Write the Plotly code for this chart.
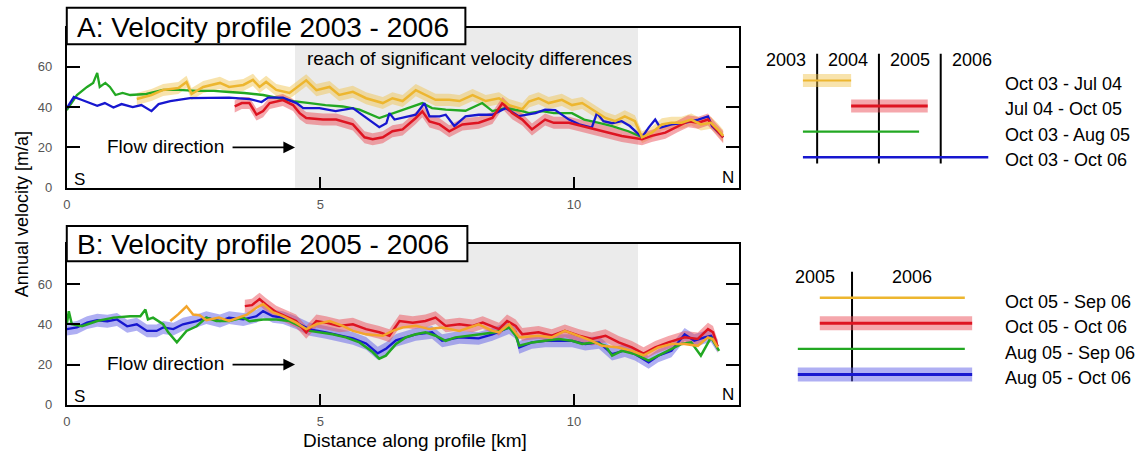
import plotly.graph_objects as go

# ---------------- Panel A data (distance km, velocity m/a) ----------------
xa_blue = [0.0, 0.14, 0.3, 0.45, 0.6, 0.75, 0.92, 1.08, 1.3, 1.47, 1.67, 1.81, 2.04, 2.43, 2.82, 3.2, 3.61, 3.84,
           3.97, 4.26, 4.53, 4.66, 4.98, 5.3, 5.64, 5.9, 6.16, 6.3, 6.36, 6.46, 6.62, 6.88, 7.05, 7.15, 7.35, 7.47,
           7.64, 7.86, 8.12, 8.39, 8.65, 8.91, 9.24, 9.43, 9.63, 9.9, 10.1, 10.35, 10.45, 10.58, 10.75, 10.94, 11.1,
           11.34, 11.47, 11.6, 11.7, 11.92, 12.18, 12.45, 12.64, 12.72, 12.94]
ya_blue = [39.5, 45, 43.5, 42, 40.6, 42, 39.8, 41.5, 40, 41, 38, 41.5, 43, 44.4, 44.5, 44.7, 44, 42.5,
           44.7, 44.7, 42, 39.5, 39.5, 38, 39.5, 34.6, 30, 32, 37, 33.8, 34.6, 36.2, 42, 35.4, 35.4, 36.2,
           30.6, 35.4, 36.2, 36.2, 39.5, 35.5, 37, 38.7, 38.5, 33.8, 31.4, 29.8, 37, 33, 32, 33, 30.6,
           25, 29.8, 33.8, 29.8, 31.4, 32.2, 33.8, 35.4, 30.6, 25]

xa_green = [0.0, 0.2, 0.4, 0.52, 0.6, 0.65, 0.76, 0.85, 0.96, 1.1, 1.25, 1.57, 1.9, 2.2, 2.56, 2.9, 3.2, 3.5,
            3.87, 4.2, 4.46, 4.79, 5.1, 5.44, 5.77, 6.16, 6.35, 6.75, 7.01, 7.2, 7.47, 7.86, 8.19, 8.39, 8.65,
            8.98, 9.11, 9.37, 9.6, 9.96, 10.2, 10.49, 10.75, 11.07, 11.34]
ya_green = [38.5, 46, 50, 52, 57, 50, 52, 50, 46, 47, 46, 46.5, 48.5, 48.5, 48, 48, 47.5, 47,
            46, 44.5, 43, 42, 41, 40.3, 38.7, 34.6, 36.2, 39.5, 42, 39.5, 38.7, 38.2, 42, 38, 39.5,
            38, 37, 38, 37, 37, 33.8, 32.2, 30.6, 28, 25]

xa_red = [3.31, 3.45, 3.6, 3.74, 3.87, 4.0, 4.26, 4.46, 4.59, 4.72, 5.05, 5.31, 5.64, 5.87, 6.03, 6.23, 6.42,
          6.62, 6.88, 7.01, 7.15, 7.35, 7.54, 7.8, 8.12, 8.39, 8.59, 8.78, 8.98, 9.17, 9.43, 9.6, 9.9, 10.16,
          10.4, 10.68, 10.94, 11.34, 11.53, 11.8, 12.05, 12.25, 12.45, 12.64, 12.77, 12.94]
ya_red = [40.3, 42, 42, 36.3, 38, 42, 43.5, 41, 37, 34.6, 33.8, 33.8, 31.4, 25, 24, 25, 28,
          28.9, 34.6, 37.9, 32.9, 31.4, 28, 31.4, 32.2, 34.6, 42, 37, 33.8, 28.9, 33.8, 32.2, 32.2, 30.6,
          28.9, 27.3, 25.7, 24, 25.7, 27.3, 30.6, 33, 32.2, 33.8, 29.8, 25]

xa_yellow = [1.38, 1.67, 1.9, 2.2, 2.36, 2.46, 2.69, 3.02, 3.2, 3.48, 3.67, 3.8, 3.93, 4.13, 4.39, 4.72, 4.92,
             5.18, 5.37, 5.64, 5.9, 6.23, 6.42, 6.62, 6.88, 7.07, 7.27, 7.54, 7.74, 8.0, 8.26, 8.52, 8.72,
             8.98, 9.11, 9.3, 9.5, 9.76, 9.96, 10.16, 10.42, 10.62, 10.81, 11.0, 11.2, 11.34, 11.53, 11.73,
             11.92, 12.12, 12.31, 12.5, 12.7, 12.83, 12.94]
ya_yellow = [44, 46, 48.5, 49.5, 52.5, 46.5, 50, 52, 50, 51, 53.5, 50, 52.5, 48.5, 47, 53.3, 48.4,
             50, 46, 47.6, 44.4, 42, 44.4, 43, 48.4, 46, 43.6, 43.6, 43, 46, 43, 44.4, 41,
             39, 42.8, 44.4, 42, 43.6, 41, 42, 37.9, 34.6, 33, 35.4, 33, 25, 27.3, 31.4,
             32.2, 32.2, 33.8, 31.4, 32.2, 29, 25.7]

# ---------------- Panel B data ----------------
xb_blue = [0.0, 0.2, 0.4, 0.6, 0.8, 0.99, 1.19, 1.38, 1.58, 1.77, 1.9, 2.1, 2.29, 2.56, 2.75, 3.02, 3.2, 3.48,
           3.74, 3.87, 4.06, 4.26, 4.52, 4.79, 5.11, 5.3, 5.64, 5.9, 6.13, 6.3, 6.49, 6.88, 7.2, 7.4, 7.74, 8.12,
           8.39, 8.72, 8.85, 8.92, 9.17, 9.43, 9.7, 9.96, 10.22, 10.49, 10.75, 11.0, 11.2, 11.47, 11.66, 11.92,
           12.18, 12.37, 12.57, 12.7, 12.83]
yb_blue = [37.6, 38.4, 40.8, 42, 41.5, 42.4, 39, 40, 36.7, 36.7, 38.4, 37.6, 40, 41.6, 43.3, 41.6, 43.3, 42.4,
           44, 46.5, 44, 43.3, 40.8, 37.5, 36, 35, 33, 30.5, 25.6, 28, 32, 35, 36, 31.8, 33.5, 33,
           35, 38.4, 36, 28.5, 31, 31.8, 31.8, 31.8, 30.2, 31, 25.2, 27, 25.2, 21.1, 24.4, 26.8,
           35, 31.8, 33.5, 34.3, 29]

xb_green = [0.0, 0.04, 0.1, 0.3, 0.6, 0.92, 1.25, 1.45, 1.55, 1.6, 1.7, 1.9, 2.0, 2.17, 2.36, 2.56, 2.75, 2.95,
            3.2, 3.48, 3.6, 3.87, 4.13, 4.39, 4.79, 4.98, 5.24, 5.5, 5.77, 6.03, 6.16, 6.29, 6.49, 6.68, 6.88,
            7.07, 7.27, 7.47, 7.66, 7.93, 8.19, 8.45, 8.72, 8.85, 8.92, 9.17, 9.43, 9.7, 9.96, 10.16, 10.4,
            10.62, 10.75, 10.94, 11.2, 11.47, 11.66, 11.92, 12.12, 12.31, 12.5, 12.7, 12.86]
yb_green = [40, 46.5, 40, 39, 41.6, 43.3, 44, 44, 47.3, 42.4, 43.3, 40, 36, 31, 36.7, 39, 43.3, 41.6,
            41.6, 43.3, 41.5, 42.4, 42.4, 41.6, 36.7, 36, 35, 33.5, 31, 26.2, 22.9, 24.4, 30.2, 33.5, 35,
            36, 34.3, 31.8, 33.5, 34.3, 35, 36, 38.4, 34.3, 29.3, 31, 31.8, 32.7, 31.8, 30.2, 31,
            29.3, 24.4, 26.8, 25.2, 21.9, 24.4, 27.6, 30.2, 31, 24.4, 33.5, 26.8]

xb_red = [3.51, 3.65, 3.8, 3.93, 4.13, 4.32, 4.52, 4.72, 4.92, 5.11, 5.37, 5.64, 5.9, 6.16, 6.36, 6.56, 6.82,
          7.07, 7.27, 7.47, 7.74, 8.0, 8.2, 8.52, 8.68, 8.85, 8.98, 9.3, 9.56, 9.82, 10.1, 10.35, 10.62, 10.88,
          11.14, 11.37, 11.6, 11.86, 12.18, 12.44, 12.64, 12.74, 12.83]
yb_red = [49, 49.5, 52.5, 49.7, 46, 44, 41.6, 36, 41.6, 40.8, 39.2, 40, 37.6, 36, 34.3, 41.6, 40.8,
          41.6, 43.3, 39.2, 40, 39.2, 40.8, 37.6, 41.6, 39.2, 35, 36, 34.3, 36.7, 34.3, 32.7, 34.3, 31,
          28.5, 25.4, 28.5, 31, 33.5, 32.7, 37.6, 36, 29]

xb_yellow = [2.04, 2.2, 2.36, 2.49, 2.62, 2.75, 3.0, 3.2, 3.55, 3.74, 3.87, 4.06, 4.26, 4.52, 4.72, 4.92, 5.18,
             5.44, 5.64, 5.9, 6.23, 6.42, 6.62, 6.88, 7.15, 7.4, 7.74, 8.12, 8.39, 8.52, 8.72, 8.92, 9.3, 9.56,
             9.82, 10.1, 10.35, 10.55, 10.88, 11.14, 11.37, 11.66, 11.92, 12.18, 12.44, 12.64, 12.74, 12.83]
yb_yellow = [41.6, 45, 48.9, 44.8, 44.5, 42, 43.3, 41.6, 44.8, 48.2, 50, 46, 44, 40.8, 37.6, 40, 41.6,
             39.2, 36.7, 35, 34.3, 36.7, 38.4, 39.2, 37.6, 38.4, 36.7, 40, 36.7, 36, 40, 33.5, 34.3, 33.5,
             36.7, 34.3, 31.8, 29.3, 28.5, 26.8, 24.6, 28.5, 30.2, 30.2, 29.3, 33.5, 32.5, 28.5]

err_a = 3.0      # half width of uncertainty band (m/a)
err_b = 3.2
reach_a = [4.5, 11.26]
reach_b = [4.4, 11.26]
x_ticks = [0, 5, 10]
y_ticks = [0, 20, 40, 60]

# ---------------- timeline legends ----------------
leg_a_labels = ["Oct 03 - Jul 04", "Jul 04 - Oct 05", "Oct 03 - Aug 05", "Oct 03 - Oct 06"]
leg_a_start = [2003.77, 2004.55, 2003.77, 2003.77]
leg_a_end = [2004.55, 2005.79, 2005.65, 2006.77]
leg_a_years = [2004, 2005, 2006]
leg_a_year_labels = ["2003", "2004", "2005", "2006"]

leg_b_labels = ["Oct 05 - Sep 06", "Oct 05 - Oct 06", "Aug 05 - Sep 06", "Aug 05 - Oct 06"]
leg_b_start = [2005.78, 2005.78, 2005.63, 2005.63]
leg_b_end = [2006.77, 2006.82, 2006.77, 2006.82]
leg_b_years = [2006]

# ---------------- styling ----------------
W, H = 1143, 460
def fx(p): return p / W
def fy(p): return 1 - p / H

FONT = "Liberation Sans, Arial, sans-serif"
YEL_A = "#EDB62F"
YEL_B = "#F3A52C"
RED = "#DE1421"
GREEN = "#22A822"
BLUE = "#1717CF"
BAND_YEL = "rgba(240,192,70,0.45)"
BAND_RED = "rgba(235,80,90,0.5)"
BAND_BLUE = "rgba(95,95,232,0.5)"

fig = go.Figure()

def band(x, y, e, color, xa, ya):
    up = [v + e for v in y]
    lo = [v - e for v in y]
    fig.add_trace(go.Scatter(x=list(x) + list(x)[::-1], y=up + lo[::-1], fill="toself", fillcolor=color,
                             mode="lines", line=dict(width=0), hoverinfo="skip", showlegend=False,
                             xaxis=xa, yaxis=ya))

def line(x, y, color, w, xa, ya):
    fig.add_trace(go.Scatter(x=x, y=y, mode="lines", line=dict(color=color, width=w), showlegend=False,
                             xaxis=xa, yaxis=ya))

# Panel A
band(xa_yellow, ya_yellow, err_a, BAND_YEL, "x", "y")
band(xa_red, ya_red, err_a, BAND_RED, "x", "y")
line(xa_green, ya_green, GREEN, 2.3, "x", "y")
line(xa_blue, ya_blue, BLUE, 2.3, "x", "y")
line(xa_red, ya_red, RED, 2.5, "x", "y")
line(xa_yellow, ya_yellow, YEL_A, 2.5, "x", "y")

# Panel B
band(xb_blue, yb_blue, err_b, BAND_BLUE, "x2", "y2")
band(xb_red, yb_red, err_b, BAND_RED, "x2", "y2")
line(xb_blue, yb_blue, BLUE, 2.3, "x2", "y2")
line(xb_green, yb_green, GREEN, 2.5, "x2", "y2")
line(xb_red, yb_red, RED, 2.5, "x2", "y2")
line(xb_yellow, yb_yellow, YEL_B, 2.5, "x2", "y2")

# Legend A timeline
leg_a_style = [(BAND_YEL, YEL_A, 2.0), (BAND_RED, RED, 3.0), (None, GREEN, 2.2), (None, BLUE, 2.6)]
for yr in leg_a_years:
    fig.add_trace(go.Scatter(x=[yr, yr], y=[-1.05, len(leg_a_labels) - 1 + 0.25], mode="lines",
                             line=dict(color="black", width=2), showlegend=False, xaxis="x3", yaxis="y3"))
for i, (s, e) in enumerate(zip(leg_a_start, leg_a_end)):
    bc, lc, lw = leg_a_style[i]
    if bc:
        fig.add_trace(go.Scatter(x=[s, e], y=[i, i], mode="lines", line=dict(color=bc, width=13),
                                 showlegend=False, xaxis="x3", yaxis="y3"))
    fig.add_trace(go.Scatter(x=[s, e], y=[i, i], mode="lines", line=dict(color=lc, width=lw),
                             showlegend=False, xaxis="x3", yaxis="y3"))

# Legend B timeline
leg_b_style = [(None, YEL_A, 2.4), (BAND_RED, RED, 3.0), (None, GREEN, 2.2), (BAND_BLUE, BLUE, 3.0)]
for yr in leg_b_years:
    fig.add_trace(go.Scatter(x=[yr, yr], y=[-1.02, len(leg_b_labels) - 1 + 0.27], mode="lines",
                             line=dict(color="black", width=2), showlegend=False, xaxis="x4", yaxis="y4"))
for i, (s, e) in enumerate(zip(leg_b_start, leg_b_end)):
    bc, lc, lw = leg_b_style[i]
    if bc:
        fig.add_trace(go.Scatter(x=[s, e], y=[i, i], mode="lines", line=dict(color=bc, width=14),
                                 showlegend=False, xaxis="x4", yaxis="y4"))
    fig.add_trace(go.Scatter(x=[s, e], y=[i, i], mode="lines", line=dict(color=lc, width=lw),
                             showlegend=False, xaxis="x4", yaxis="y4"))

# ---------------- axes ----------------
tickfont = dict(family=FONT, size=13, color="#555555")
xcommon = dict(range=[0, 13.26], tickvals=x_ticks, ticks="inside", ticklen=11, tickwidth=2, tickcolor="black",
               showline=True, linecolor="black", linewidth=2, mirror=True, showgrid=False, zeroline=False,
               tickfont=tickfont, ticklabelstandoff=4, fixedrange=True)
ycommon = dict(tickvals=y_ticks, ticks="inside", ticklen=13, tickwidth=2, tickcolor="black",
               showline=True, linecolor="black", linewidth=2, mirror="ticks", showgrid=False, zeroline=False,
               tickfont=tickfont, ticklabelstandoff=10, fixedrange=True)
hidden = dict(visible=False, showgrid=False, zeroline=False, fixedrange=True)

fig.update_layout(
    width=W, height=H,
    margin=dict(l=0, r=0, t=0, b=0),
    paper_bgcolor="white", plot_bgcolor="white",
    font=dict(family=FONT, color="black"),
    showlegend=False,
    xaxis=dict(domain=[fx(63), fx(738)], anchor="y", **xcommon),
    yaxis=dict(domain=[fy(191), fy(28)], range=[0, 79.5], anchor="x", **ycommon),
    xaxis2=dict(domain=[fx(63), fx(738)], anchor="y2", **xcommon),
    yaxis2=dict(domain=[fy(412), fy(248)], range=[0, 80], anchor="x2", **ycommon),
    xaxis3=dict(domain=[fx(754), fx(1140)], range=[2004 - (816 - 754) / 62, 2004 + (1140 - 816) / 62],
                anchor="y3", **hidden),
    yaxis3=dict(domain=[fy(186), fy(43)], range=[4, -1.5], anchor="x3", **hidden),
    xaxis4=dict(domain=[fx(748), fx(1140)], range=[2006 - (851 - 748) / 147, 2006 + (1140 - 851) / 147],
                anchor="y4", **hidden),
    yaxis4=dict(domain=[fy(407), fy(264)], range=[4, -1.5], anchor="x4", **hidden),
)

shapes = [
    dict(type="rect", xref="x", yref="y domain", x0=reach_a[0], x1=reach_a[1], y0=0, y1=1,
         fillcolor="#EBEBEB", line=dict(width=0), layer="below"),
    dict(type="rect", xref="x2", yref="y2 domain", x0=reach_b[0], x1=reach_b[1], y0=0, y1=1,
         fillcolor="#EBEBEB", line=dict(width=0), layer="below"),
    dict(type="rect", xref="paper", yref="paper", x0=fx(63), x1=fx(463), y0=fy(45), y1=fy(8),
         fillcolor="white", line=dict(color="black", width=2), layer="above"),
    dict(type="rect", xref="paper", yref="paper", x0=fx(63), x1=fx(465), y0=fy(266), y1=fy(230),
         fillcolor="white", line=dict(color="black", width=2), layer="above"),
]
fig.update_layout(shapes=shapes)

ann = []
def text(t, x, y, size, xref="paper", yref="paper", xanchor="center", yanchor="middle", angle=0, color="black"):
    ann.append(dict(text=t, x=x, y=y, xref=xref, yref=yref, xanchor=xanchor, yanchor=yanchor,
                    showarrow=False, textangle=angle, font=dict(family=FONT, size=size, color=color)))

text("A: Velocity profile 2003 - 2006", fx(71), fy(28), 28, xanchor="left")
text("B: Velocity profile 2005 - 2006", fx(71), fy(249), 28, xanchor="left")
text("reach of significant velocity differences", fx(467), fy(60), 19)
text("Annual velocity [m/a]", fx(18), fy(218), 18, angle=-90)
text("Distance along profile [km]", fx(412), fy(448), 19)

for xr, yr in (("x", "y"), ("x2", "y2")):
    text("Flow direction", 1.95, 20.5, 19, xref=xr, yref=yr)
    ann.append(dict(x=4.5, y=20, xref=xr, yref=yr, ax=-64, ay=0, text="", showarrow=True,
                    arrowhead=2, arrowsize=1.3, arrowwidth=1.8, arrowcolor="black", standoff=0))
    text("S", 0.1, 4.3, 17, xref=xr, yref=yr, xanchor="left")
    text("N", 13.2, 5.0, 17, xref=xr, yref=yr, xanchor="right")

# legend A texts
for i, lab in enumerate(leg_a_year_labels):
    text(lab, int(lab) + 0.5, -0.8, 18, xref="x3", yref="y3")
for i, lab in enumerate(leg_a_labels):
    text(lab, fx(1003), i + 0.12, 18, xref="paper", yref="y3", xanchor="left")
# legend B texts
text("2005", leg_b_years[0] - 0.1, -0.83, 18, xref="x4", yref="y4", xanchor="right")
text("2006", leg_b_years[0] + 0.26, -0.83, 18, xref="x4", yref="y4", xanchor="left")
for i, lab in enumerate(leg_b_labels):
    text(lab, fx(1003), i + 0.15, 18, xref="paper", yref="y4", xanchor="left")

fig.update_layout(annotations=ann)
fig.write_html("out.html")
